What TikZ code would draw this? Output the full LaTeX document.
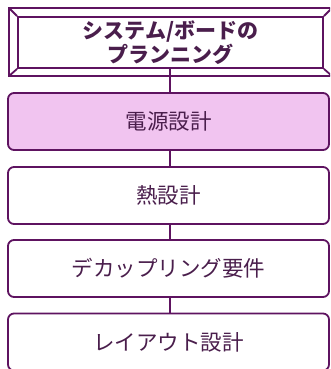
\documentclass[tikz,border=0pt]{standalone}
\usepackage{fontspec}
\newfontfamily\jp{Noto Sans CJK JP}
\definecolor{edge}{HTML}{5E1360}
\definecolor{pinkfill}{HTML}{F1C4F0}
\definecolor{txt}{HTML}{4A1E4C}
\tikzset{
  box/.style={draw=edge, line width=1.8pt, rounded corners=6pt, minimum width=321pt, minimum height=57pt, inner sep=0pt, font=\jp\fontsize{21.5pt}{24pt}\selectfont, text=txt, fill=white},
  link/.style={draw=edge, line width=1.8pt},
  frame/.style={draw=edge, line width=1.8pt}
}
\begin{document}
\begin{tikzpicture}[x=1pt,y=-1pt]
\useasboundingbox (0,0) rectangle (330,369);
\clip (0,0) rectangle (330,369);
% top bevelled frame
\node[frame, fill=white, minimum width=305pt, minimum height=51pt, inner sep=0pt, align=center, text=txt, font=\jp\bfseries\fontsize{21pt}{24.5pt}\selectfont] (top) at (170.5,42.5) {システム/ボードの\\プランニング};
\draw[frame] (9,8) rectangle (332,76);
\draw[frame] (9,8) -- (top.north west);
\draw[frame] (9,76) -- (top.south west);
\draw[frame] (332,8) -- (top.north east);
\draw[frame] (332,76) -- (top.south east);
% boxes
\node[box, fill=pinkfill] (b1) at (168.5,121.5) {電源設計};
\node[box] (b2) at (168.5,195.5) {熱設計};
\node[box] (b3) at (168.5,268.5) {デカップリング要件};
\node[box] (b4) at (168.5,342) {レイアウト設計};
% connectors
\draw[link] (top.south -| 170,0) -- (b1.north -| 170,0);
\draw[link] (b1.south -| 170,0) -- (b2.north -| 170,0);
\draw[link] (b2.south -| 170,0) -- (b3.north -| 170,0);
\draw[link] (b3.south -| 170,0) -- (b4.north -| 170,0);
\end{tikzpicture}
\end{document}
